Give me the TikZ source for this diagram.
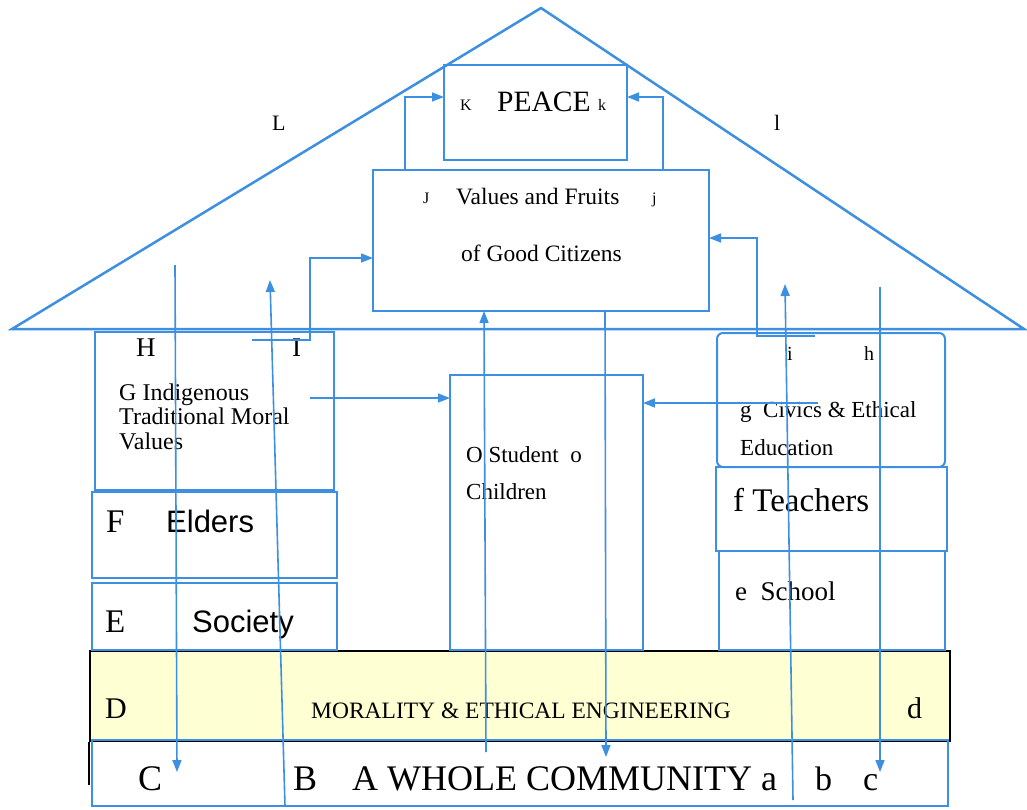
\documentclass[tikz,border=0pt]{standalone}
\usepackage{fontspec}
\setmainfont{Liberation Serif}
\newfontfamily\sansf{Liberation Sans}
\usetikzlibrary{arrows.meta}
\definecolor{rblue}{RGB}{61,143,226}
\definecolor{bandfill}{RGB}{255,255,212}
\tikzset{
  box/.style={draw=rblue, line width=2pt, anchor=north west, inner sep=0pt, outer sep=0pt},
  lbl/.style={inner sep=0pt, anchor=base west, text=black},
  conn/.style={draw=rblue, line width=1.6pt},
  arr/.style={conn, -{Triangle[length=12pt,width=9pt]}},
}
\begin{document}
\begin{tikzpicture}[x=1pt,y=-1pt]
\useasboundingbox (0,0) rectangle (1027,809);
% roof
\draw[rblue, line width=2.5pt, line join=miter] (12,329) -- (541,8) -- (1024,329) -- cycle;
% band
\node[anchor=north west, fill=bandfill, draw=black, line width=2pt, minimum width=860, minimum height=90, inner sep=0pt] (band) at (89,650) {};
\draw[black, line width=2pt] (band.south west) -- ++(0,43);
% boxes
\node[box, minimum width=183, minimum height=95] (peace) at (444,65) {};
\node[box, minimum width=336, minimum height=141] (values) at (373,170) {};
\node[box, minimum width=239, minimum height=158] (hbox) at (95,332) {};
\node[box, minimum width=245, minimum height=86] (elders) at (92,492) {};
\node[box, minimum width=245, minimum height=67] (society) at (92,583) {};
\node[box, minimum width=228, minimum height=134, rounded corners=6pt] (gbox) at (717,333) {};
\node[box, minimum width=231, minimum height=84] (teachers) at (716,467) {};
\node[box, minimum width=226, minimum height=99] (school) at (719,551) {};
\node[box, minimum width=193, minimum height=275] (student) at (450,375) {};
\node[box, minimum width=856, minimum height=66] (community) at (92,740) {};
% labels
\node[lbl, font=\fontsize{22}{22}\selectfont] (tL) at (272,130) {L};
\node[lbl, font=\fontsize{22}{22}\selectfont] (tl) at (774,130) {l};
\node[lbl, font=\fontsize{16}{16}\selectfont] (tK) at (460,110) {K};
\node[lbl, font=\fontsize{29.5}{29.5}\selectfont] (tPeace) at (497,111) {PEACE};
\node[lbl, font=\fontsize{16}{16}\selectfont] (tk) at (598,110) {k};
\node[lbl, font=\fontsize{16}{16}\selectfont] (tJ) at (423,203) {J};
\node[lbl, font=\fontsize{23.5}{23.5}\selectfont] (tVal) at (456,204) {Values and Fruits};
\node[lbl, font=\fontsize{16}{16}\selectfont] (tj) at (652,203) {j};
\node[lbl, font=\fontsize{23.5}{23.5}\selectfont] (tGood) at (461,261) {of Good Citizens};
\node[lbl, font=\fontsize{27}{27}\selectfont] (tH) at (136,356) {H};
\node[lbl, font=\fontsize{27}{27}\selectfont] (tI) at (292,356) {I};
\node[lbl, font=\fontsize{24}{23}\selectfont] (tG1) at (119,400) {G Indigenous};
\node[lbl, font=\fontsize{24}{23}\selectfont] (tG2) at (119,424) {Traditional Moral};
\node[lbl, font=\fontsize{24}{23}\selectfont] (tG3) at (119,449) {Values};
\node[lbl, font=\fontsize{33}{33}\selectfont] (tF) at (106,532) {F};
\node[lbl, font=\fontsize{31}{31}\sansf] (tElders) at (166,532) {Elders};
\node[lbl, font=\fontsize{33}{33}\selectfont] (tE) at (105,632) {E};
\node[lbl, font=\fontsize{31}{31}\sansf] (tSoc) at (192,632) {Society};
\node[lbl, font=\fontsize{20}{20}\selectfont] (ti) at (787,360) {i};
\node[lbl, font=\fontsize{20}{20}\selectfont] (th) at (864,360) {h};
\node[lbl, font=\fontsize{23}{23}\selectfont] (tCiv) at (740,417) {g\ \ Civics \& Ethical};
\node[lbl, font=\fontsize{23}{23}\selectfont] (tEdu) at (740,455) {Education};
\node[lbl, font=\fontsize{33}{33}\selectfont] (tTea) at (733,511) {f\ Teachers};
\node[lbl, font=\fontsize{27}{27}\selectfont] (tSch) at (735,600) {e\ \ School};
\node[lbl, font=\fontsize{23}{23}\selectfont] (tStu) at (466,462) {O Student\ \ o};
\node[lbl, font=\fontsize{23}{23}\selectfont] (tChi) at (466,499) {Children};
\node[lbl, font=\fontsize{30}{30}\selectfont] (tD) at (105,718) {D};
\node[lbl, font=\fontsize{23.5}{23.5}\selectfont] (tMor) at (311,718) {MORALITY \& ETHICAL ENGINEERING};
\node[lbl, font=\fontsize{30}{30}\selectfont] (td) at (907,718) {d};
\node[lbl, font=\fontsize{36}{36}\selectfont] (tC) at (138,790) {C};
\node[lbl, font=\fontsize{36}{36}\selectfont] (tB) at (293,790) {B};
\node[lbl, font=\fontsize{36}{36}\selectfont] (tA) at (352,790) {A WHOLE COMMUNITY a};
\node[lbl, font=\fontsize{34}{34}\selectfont] (tb) at (815,790) {b};
\node[lbl, font=\fontsize{34}{34}\selectfont] (tc) at (863,790) {c};
% connector coordinates
\coordinate (vJ) at (405,170); \coordinate (pK) at (444,97);
\coordinate (vj) at (663,170); \coordinate (pk) at (627,97);
\coordinate (hI0) at (252,340); \coordinate (hI) at (310,340); \coordinate (vL) at (373,258);
\coordinate (hi0) at (815,336); \coordinate (hi) at (757,336); \coordinate (vR) at (709,238);
\coordinate (gO) at (310,398); \coordinate (sL) at (450,398);
\coordinate (go) at (818,403); \coordinate (sR) at (643,403);
\coordinate (l1a) at (175,265); \coordinate (l1b) at (177,772);
\coordinate (l2a) at (285,806); \coordinate (l2b) at (270,280);
\coordinate (l3a) at (486,752); \coordinate (l3b) at (484,311);
\coordinate (l4a) at (605,311); \coordinate (l4b) at (606,757);
\coordinate (l5a) at (793,800); \coordinate (l5b) at (785,284);
\coordinate (l6a) at (880,287); \coordinate (l6b) at (880,772);
% connectors
\draw[arr] (vJ) |- (pK);
\draw[arr] (vj) |- (pk);
\draw[arr] (hI0) -- (hI) |- (vL);
\draw[arr] (hi0) -- (hi) |- (vR);
\draw[arr] (gO) -- (sL);
\draw[arr] (go) -- (sR);
\draw[arr] (l1a) -- (l1b);
\draw[arr] (l2a) -- (l2b);
\draw[arr] (l3a) -- (l3b);
\draw[arr] (l4a) -- (l4b);
\draw[arr] (l5a) -- (l5b);
\draw[arr] (l6a) -- (l6b);
\end{tikzpicture}
\end{document}
